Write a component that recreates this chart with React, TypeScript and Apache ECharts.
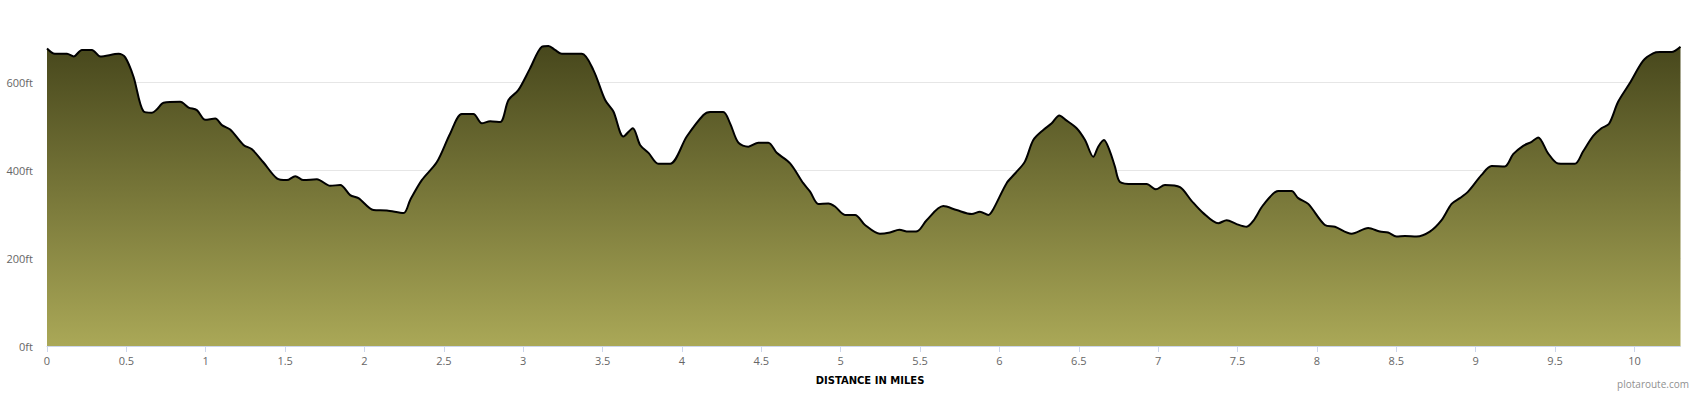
import React, { useEffect, useRef } from "react";
import * as echarts from "echarts";

const distances = [
  0.0, 0.05, 0.126, 0.168, 0.22, 0.283, 0.336, 0.451, 0.493, 0.545, 0.608, 0.661, 0.693, 0.734,
  0.839, 0.892, 0.944, 0.997, 1.06, 1.102, 1.154, 1.238, 1.291, 1.364, 1.448, 1.511, 1.564, 1.616,
  1.7, 1.784, 1.847, 1.91, 1.962, 2.057, 2.141, 2.246, 2.288, 2.361, 2.456, 2.54, 2.613, 2.686,
  2.739, 2.792, 2.855, 2.907, 2.97, 3.043, 3.117, 3.159, 3.2, 3.243, 3.369, 3.442, 3.516, 3.568,
  3.631, 3.69, 3.736, 3.789, 3.851, 3.925, 4.03, 4.135, 4.177, 4.26, 4.303, 4.355, 4.418, 4.481,
  4.544, 4.597, 4.681, 4.764, 4.807, 4.859, 4.922, 4.964, 5.027, 5.09, 5.153, 5.247, 5.31, 5.369,
  5.426, 5.482, 5.541, 5.646, 5.73, 5.825, 5.877, 5.93, 5.961, 6.045, 6.098, 6.16, 6.213, 6.276,
  6.329, 6.377, 6.413, 6.486, 6.539, 6.591, 6.622, 6.658, 6.696, 6.727, 6.759, 6.843, 6.927, 6.985,
  7.042, 7.137, 7.21, 7.284, 7.378, 7.431, 7.494, 7.557, 7.6, 7.661, 7.756, 7.84, 7.882, 7.945,
  8.05, 8.113, 8.218, 8.323, 8.396, 8.448, 8.501, 8.554, 8.627, 8.711, 8.785, 8.848, 8.9, 8.952,
  9.037, 9.1, 9.183, 9.236, 9.299, 9.352, 9.393, 9.456, 9.519, 9.624, 9.676, 9.739, 9.792, 9.84,
  9.897, 9.97, 10.054, 10.117, 10.159, 10.233, 10.29,
];

const elevations = [
  676, 664, 664, 658, 673, 673, 658, 664, 656, 612, 533, 530, 538, 553,
  555, 542, 536, 514, 517, 502, 492, 457, 447, 417, 381, 377, 386, 377,
  379, 364, 366, 343, 336, 309, 308, 302, 332, 377, 418, 483, 527, 527,
  506, 511, 509, 559, 582, 631, 680, 682, 673, 664, 664, 627, 559, 533,
  476, 495, 457, 439, 414, 414, 476, 525, 532, 532, 506, 462, 453, 462,
  462, 439, 415, 370, 351, 323, 324, 317, 298, 298, 275, 255, 258, 264,
  260, 261, 286, 318, 309, 300, 305, 298, 311, 370, 392, 419, 468, 491,
  506, 524, 515, 495, 468, 430, 453, 468, 442, 408, 373, 368, 368, 356,
  366, 361, 330, 302, 279, 286, 277, 271, 285, 320, 352, 352, 336, 323,
  275, 271, 255, 268, 260, 258, 249, 250, 249, 260, 286, 323, 336, 351,
  389, 409, 408, 436, 455, 464, 474, 438, 415, 414, 442, 477, 495, 505,
  555, 597, 648, 665, 668, 668, 680,
];

const xTicks = [0, 0.5, 1, 1.5, 2, 2.5, 3, 3.5, 4, 4.5, 5, 5.5, 6, 6.5, 7, 7.5, 8, 8.5, 9, 9.5, 10];
const yTicks = [0, 200, 400, 600];

const xAxisTitle = "DISTANCE IN MILES";
const credit = "plotaroute.com";

export default function App() {
  const ref = useRef<HTMLDivElement>(null);

  useEffect(() => {
    if (!ref.current) return;
    const chart = echarts.init(ref.current, undefined, { renderer: "svg" });
    const data = distances.map((d, i) => [d, elevations[i]]);
    chart.setOption({
      animation: false,
      grid: { left: 47, right: 19.5, top: 38, bottom: 47, containLabel: false },
      xAxis: {
        type: "value",
        min: 0,
        max: 10.29,
        interval: 0.5,
        axisLine: { show: true, lineStyle: { color: "#ccd6eb", width: 1 } },
        axisTick: {
          show: true,
          customValues: xTicks,
          length: 6,
          lineStyle: { color: "#ccd6eb", width: 1 },
        },
        axisLabel: {
          customValues: xTicks,
          color: "#666666",
          fontSize: 11,
          fontFamily: "Open Sans, DejaVu Sans, sans-serif",
          margin: 9,
          formatter: (v: number) => String(v),
        },
        splitLine: { show: false },
      },
      yAxis: {
        type: "value",
        min: 0,
        max: 700,
        interval: 200,
        axisLine: { show: false },
        axisTick: { show: false },
        axisLabel: {
          customValues: yTicks,
          color: "#666666",
          fontSize: 11,
          fontFamily: "Open Sans, DejaVu Sans, sans-serif",
          margin: 14,
          formatter: (v: number) => `${v}ft`,
        },
        splitLine: {
          show: true,
          showMinLine: false,
          showMaxLine: false,
          lineStyle: { color: "#e6e6e6", width: 1 },
        },
      },
      series: [
        {
          type: "line",
          data,
          smooth: 0.3,
          symbol: "none",
          lineStyle: { color: "#000000", width: 2 },
          areaStyle: {
            opacity: 1,
            color: new echarts.graphic.LinearGradient(0, 0, 0, 1, [
              { offset: 0, color: "#47471c" },
              { offset: 1, color: "#aaa857" },
            ]),
          },
        },
      ],
      graphic: [
        {
          type: "text",
          x: 870,
          y: 380,
          style: {
            text: xAxisTitle,
            fill: "#000000",
            font: "bold 10px 'DejaVu Sans', Verdana, sans-serif",
            textAlign: "center",
            textVerticalAlign: "middle",
          },
        },
        {
          type: "text",
          x: 1689,
          y: 384,
          style: {
            text: credit,
            fill: "#909090",
            font: "10px 'Open Sans', sans-serif",
            textAlign: "right",
            textVerticalAlign: "middle",
          },
        },
      ],
    });
    return () => chart.dispose();
  }, []);

  return (
    <div
      ref={ref}
      style={{ position: "fixed", left: 0, top: 0, width: 1700, height: 393, background: "#ffffff" }}
    />
  );
}
